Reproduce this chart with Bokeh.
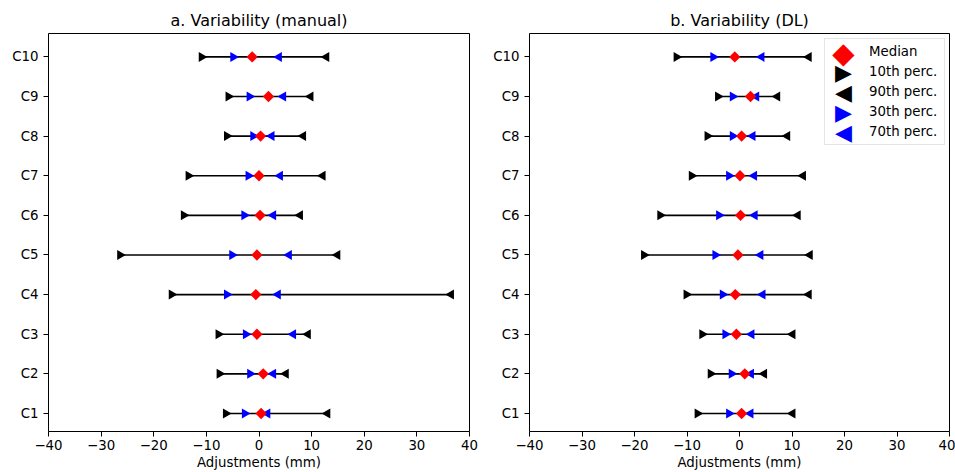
import math
from bokeh.plotting import figure
from bokeh.models import FixedTicker, Legend, LegendItem, Range1d, Label
from bokeh.layouts import row
from bokeh.embed import file_html
from bokeh.resources import INLINE

categories = ["C1", "C2", "C3", "C4", "C5", "C6", "C7", "C8", "C9", "C10"]

# Panel a: manual
manual_p10 = [-6.3, -7.5, -7.7, -16.6, -26.4, -14.3, -13.4, -6.1, -5.8, -10.9]
manual_p30 = [-2.7, -1.7, -2.5, -6.1, -5.1, -2.8, -2.0, -1.1, -1.8, -4.9]
manual_med = [0.4, 0.8, -0.4, -0.6, -0.4, 0.2, 0.0, 0.3, 1.8, -1.3]
manual_p70 = [1.6, 2.7, 6.5, 3.6, 5.7, 2.7, 4.0, 2.4, 4.6, 3.8]
manual_p90 = [13.0, 5.1, 9.3, 36.5, 14.9, 7.8, 12.1, 8.4, 9.8, 12.8]

# Panel b: DL
dl_p10 = [-8.0, -5.5, -7.1, -10.1, -18.2, -15.1, -9.1, -6.1, -4.1, -12.0]
dl_p30 = [-2.0, -1.5, -2.7, -3.2, -4.6, -3.9, -2.0, -1.3, -1.3, -5.0]
dl_med = [0.4, 1.0, -0.6, -0.8, -0.3, 0.2, 0.1, 0.4, 2.1, -0.9]
dl_p70 = [2.1, 2.2, 2.3, 4.4, 4.0, 2.9, 2.8, 2.5, 3.2, 4.2]
dl_p90 = [10.1, 4.7, 10.1, 13.2, 13.4, 11.1, 12.1, 9.1, 7.2, 13.2]

titles = ["a. Variability (manual)", "b. Variability (DL)"]
x_ticks = [-40, -30, -20, -10, 0, 10, 20, 30, 40]
x_label = "Adjustments (mm)"
legend_labels = ["Median", "10th perc.", "90th perc.", "30th perc.", "70th perc."]
legend_symbols = ["\u25C6", "\u25B6", "\u25C0", "\u25B6", "\u25C0"]
legend_colors = ["red", "black", "black", "blue", "blue"]

FONT = "DejaVu Sans"
ypos = list(range(1, len(categories) + 1))


def make_panel(title, p10, p30, med, p70, p90, width, bl, br, with_legend):
    p = figure(width=width, height=472, output_backend="svg", toolbar_location=None,
               x_range=Range1d(-40, 40), y_range=Range1d(0.545, 10.59),
               min_border_left=bl, min_border_right=br, min_border_top=33,
               min_border_bottom=41, title=title)
    p.title.text_font = FONT
    p.title.text_font_size = "16px"
    p.title.text_font_style = "normal"
    p.title.align = "center"
    p.title.standoff = 8
    p.title.text_color = "black"
    p.outline_line_color = "black"
    p.outline_line_width = 1
    p.xgrid.visible = False
    p.ygrid.visible = False
    p.background_fill_color = "white"
    p.border_fill_color = "white"

    for ax in (p.xaxis[0], p.yaxis[0]):
        ax.axis_line_color = None
        ax.major_tick_line_color = "black"
        ax.major_tick_in = 0
        ax.major_tick_out = 5
        ax.minor_tick_line_color = None
        ax.major_label_text_font = FONT
        ax.major_label_text_font_size = "13.33px"
        ax.major_label_text_color = "black"
    p.xaxis.ticker = FixedTicker(ticks=x_ticks)
    p.xaxis.major_label_overrides = {t: (str(t).replace("-", "\u2212")) for t in x_ticks}
    p.xaxis.major_label_standoff = 3
    p.xaxis.axis_label = x_label
    p.xaxis.axis_label_text_font = FONT
    p.xaxis.axis_label_text_font_size = "13.33px"
    p.xaxis.axis_label_text_font_style = "normal"
    p.xaxis.axis_label_text_color = "black"
    p.xaxis.axis_label_standoff = 2
    p.yaxis.ticker = FixedTicker(ticks=ypos)
    p.yaxis.major_label_overrides = {y: c for y, c in zip(ypos, categories)}
    p.yaxis.major_label_standoff = 5

    p.segment(x0=p10, y0=ypos, x1=p90, y1=ypos, line_color="black", line_width=1.6)
    p.scatter(x=p10, y=ypos, marker="triangle", angle=-math.pi / 2, size=10,
              fill_color="black", line_color="black", line_width=0)
    p.scatter(x=p90, y=ypos, marker="triangle", angle=math.pi / 2, size=10,
              fill_color="black", line_color="black", line_width=0)
    p.scatter(x=p30, y=ypos, marker="triangle", angle=-math.pi / 2, size=10,
              fill_color="blue", line_color="blue", line_width=0)
    p.scatter(x=p70, y=ypos, marker="triangle", angle=math.pi / 2, size=10,
              fill_color="blue", line_color="blue", line_width=0)
    p.scatter(x=med, y=ypos, marker="square", angle=math.pi / 4, size=8,
              fill_color="red", line_color="red", line_width=0)

    if with_legend:
        # legend frame + texts (glyph area left blank, symbols drawn as labels)
        dummies = [p.scatter(x=[], y=[], marker="circle", fill_alpha=0, line_alpha=0)
                   for _ in legend_labels]
        items = [LegendItem(label=lab, renderers=[r])
                 for lab, r in zip(legend_labels, dummies)]
        leg_x, leg_bottom, row_h, pad_top = 295, 286, 20, 2
        n = len(legend_labels)
        leg = Legend(items=items, location=(leg_x, leg_bottom),
                     glyph_width=30, glyph_height=row_h, spacing=0,
                     padding=(5, 6, pad_top, 3),
                     label_standoff=9, label_width=69, label_height=row_h,
                     label_text_font=FONT, label_text_font_size="13.33px",
                     label_text_color="black",
                     border_line_color="#cccccc", border_line_width=1,
                     background_fill_color=None)
        p.add_layout(leg)
        leg_top = leg_bottom + pad_top + n * row_h + 3
        for i, (sym, col) in enumerate(zip(legend_symbols, legend_colors)):
            fs = "29px" if i == 0 else "22px"
            p.add_layout(Label(x=leg_x + 19, y=leg_top - pad_top - row_h * i - row_h / 2,
                               x_units="screen", y_units="screen", text=sym,
                               text_color=col, text_font=FONT, text_font_size=fs,
                               text_align="center", text_baseline="middle"))
    return p


p1 = make_panel(titles[0], manual_p10, manual_p30, manual_med, manual_p70, manual_p90,
                488, 48, 19, False)
p2 = make_panel(titles[1], dl_p10, dl_p30, dl_med, dl_p70, dl_p90,
                467, 41, 6, True)

layout = row(p1, p2)
open("out.html", "w").write(file_html(layout, INLINE))
